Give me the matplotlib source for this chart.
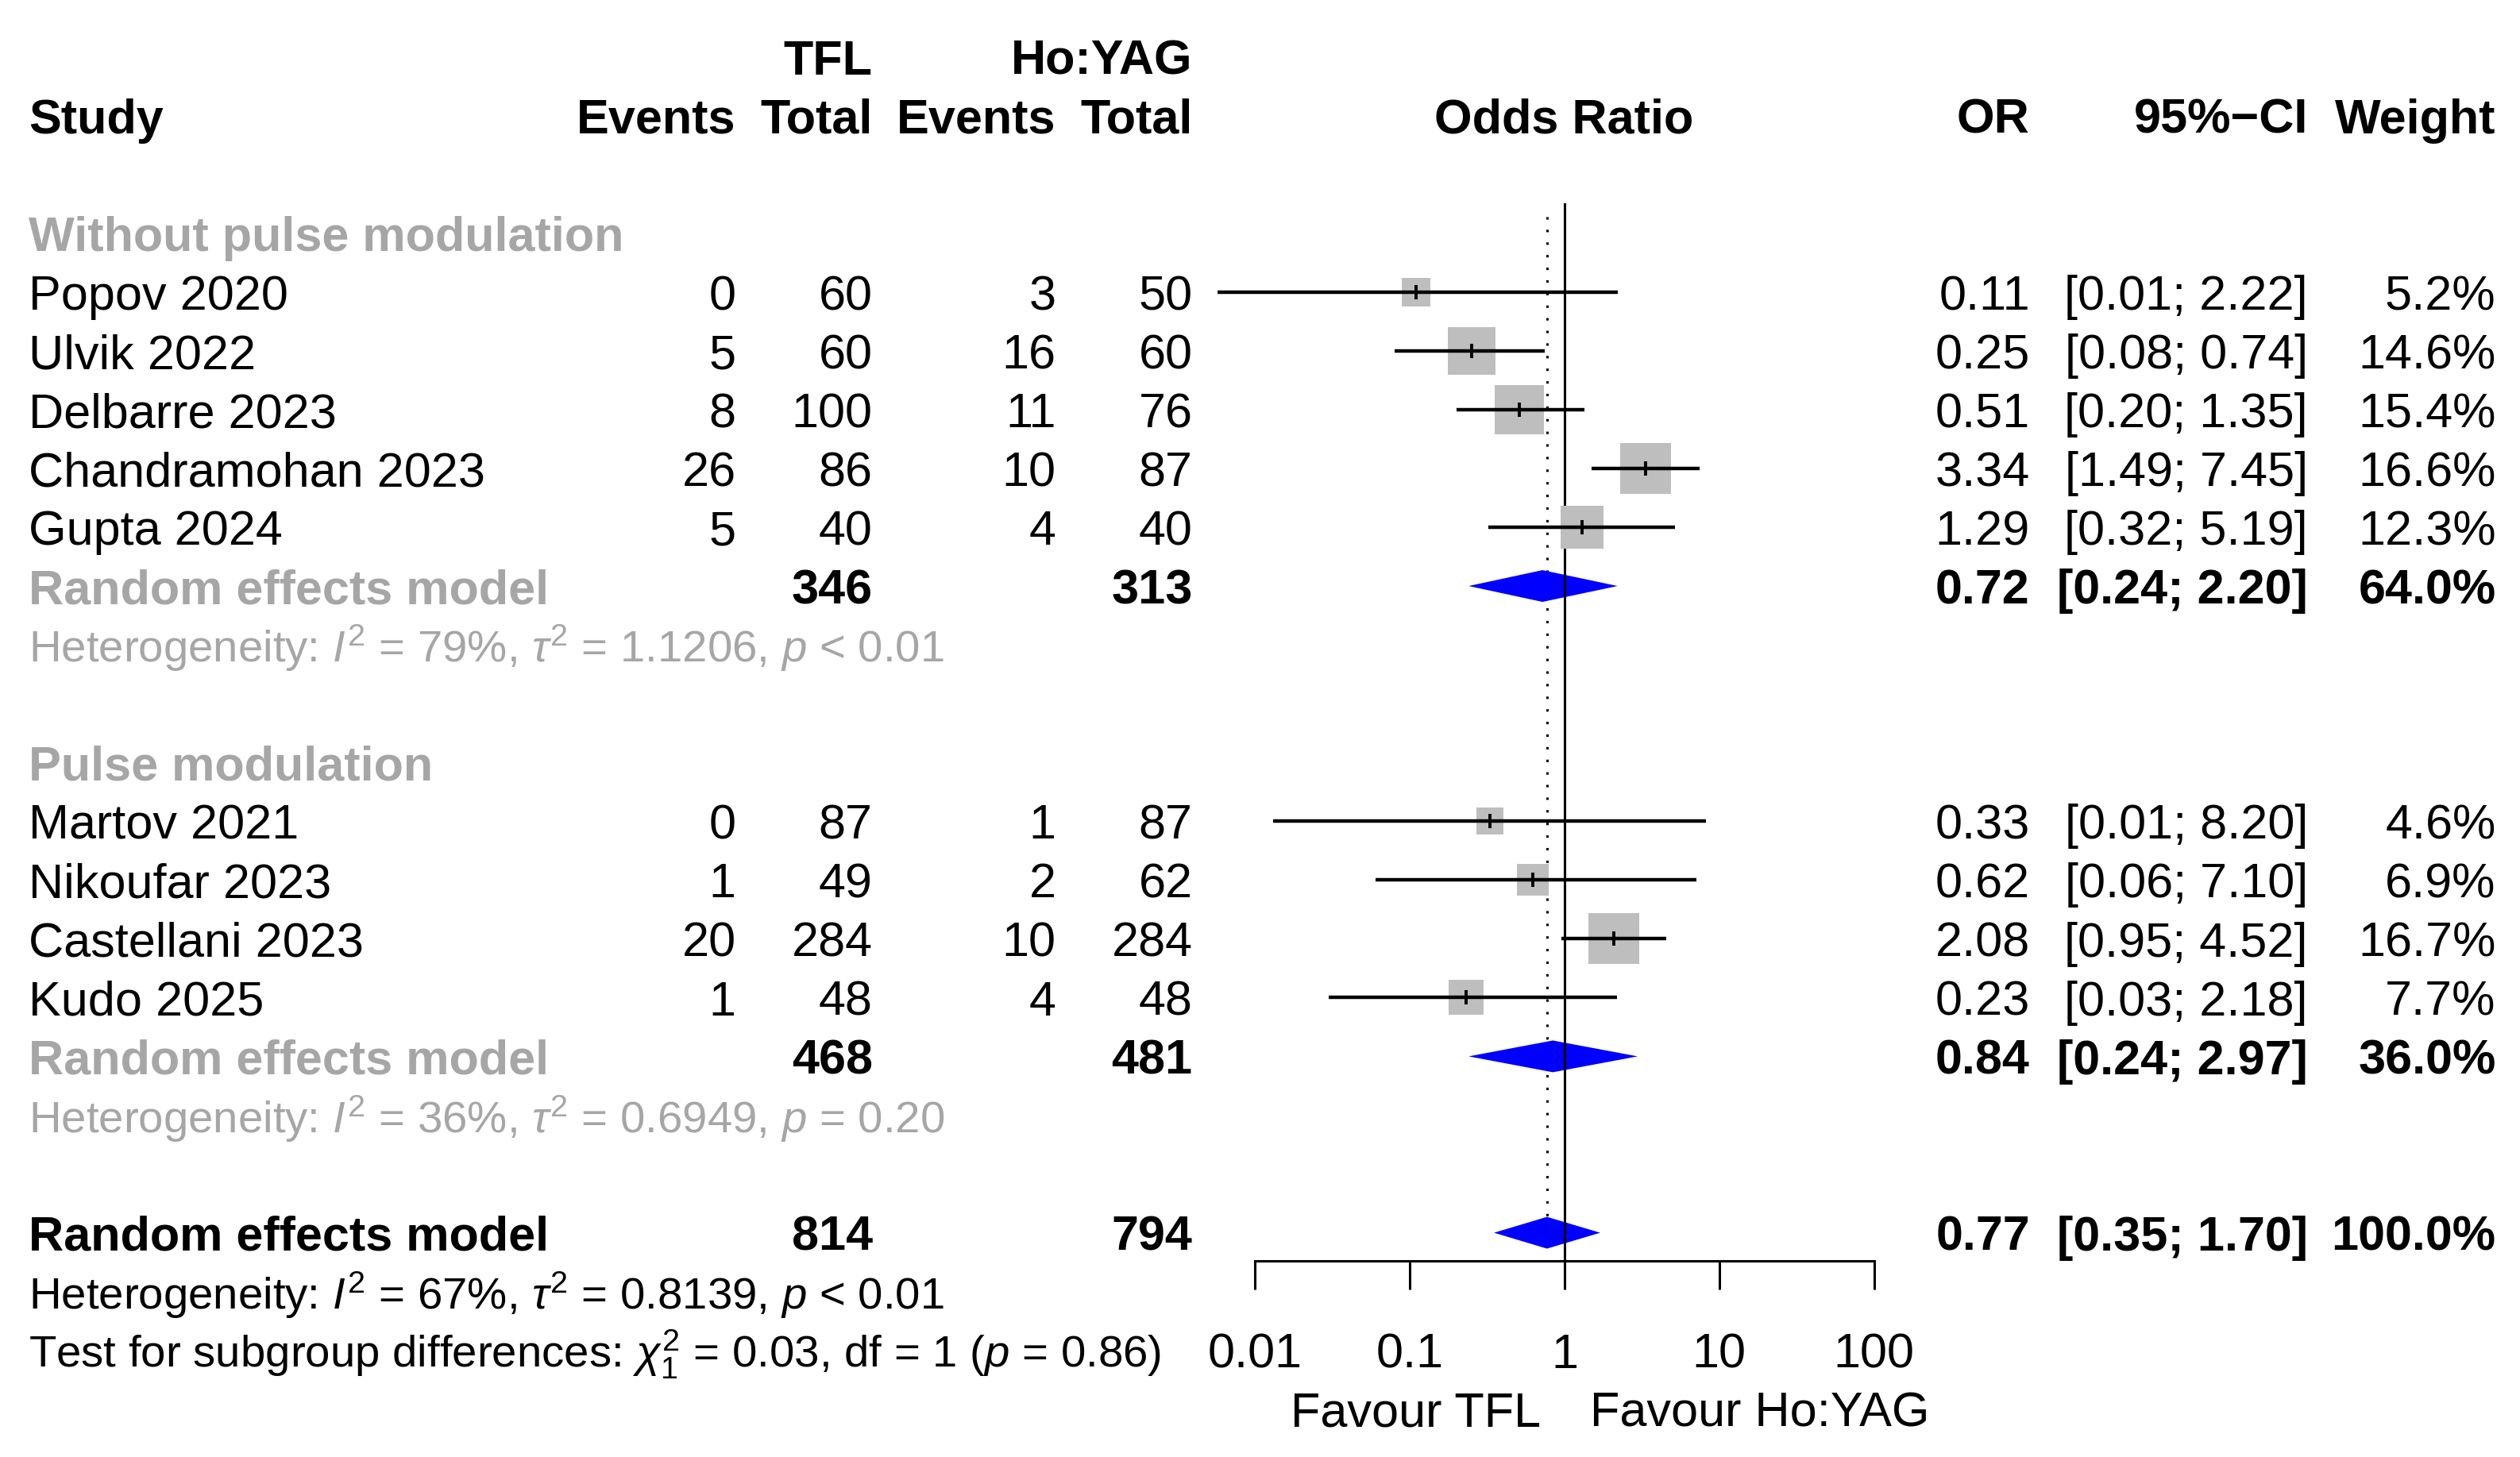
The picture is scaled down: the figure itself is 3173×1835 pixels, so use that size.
import matplotlib
matplotlib.use("Agg")
import matplotlib.pyplot as plt
import matplotlib.transforms as mtransforms
from matplotlib.ticker import NullLocator
import numpy as np

plt.rcParams['font.family'] = ['Liberation Sans', 'DejaVu Sans']
plt.rcParams['mathtext.fontset'] = 'custom'
plt.rcParams['mathtext.rm'] = 'Liberation Sans'
plt.rcParams['mathtext.it'] = 'Liberation Sans:italic'
plt.rcParams['mathtext.bf'] = 'Liberation Sans:bold'

# ---------------- data ----------------
group_names = ["Without pulse modulation", "Pulse modulation"]
studies = ["Popov 2020", "Ulvik 2022", "Delbarre 2023", "Chandramohan 2023", "Gupta 2024",
           "Martov 2021", "Nikoufar 2023", "Castellani 2023", "Kudo 2025"]
study_group = [0, 0, 0, 0, 0, 1, 1, 1, 1]
tfl_events = [0, 5, 8, 26, 5, 0, 1, 20, 1]
tfl_total = [60, 60, 100, 86, 40, 87, 49, 284, 48]
ho_events = [3, 16, 11, 10, 4, 1, 2, 10, 4]
ho_total = [50, 60, 76, 87, 40, 87, 62, 284, 48]
odds_ratio = [0.11, 0.25, 0.51, 3.34, 1.29, 0.33, 0.62, 2.08, 0.23]
ci_lower = [0.0057, 0.08, 0.20, 1.49, 0.32, 0.013, 0.06, 0.95, 0.03]
ci_upper = [2.22, 0.74, 1.35, 7.45, 5.19, 8.20, 7.10, 4.52, 2.18]
weights = [5.2, 14.6, 15.4, 16.6, 12.3, 4.6, 6.9, 16.7, 7.7]

sub_tfl_total = [346, 468]
sub_ho_total = [313, 481]
sub_or = [0.72, 0.84]
sub_lo = [0.24, 0.24]
sub_hi = [2.20, 2.97]
sub_weight = [64.0, 36.0]
sub_i2 = [79, 36]
sub_tau2 = ["1.1206", "0.6949"]
sub_p = ["< 0.01", "= 0.20"]

all_tfl_total = 814
all_ho_total = 794
all_or = 0.77
all_lo = 0.35
all_hi = 1.70
all_weight = 100.0
all_i2 = 67
all_tau2 = "0.8139"
all_p = "< 0.01"
test_chi2 = "0.03"
test_df = 1
test_p = "0.86"

axis_ticks = [0.01, 0.1, 1, 10, 100]
axis_tick_labels = ["0.01", "0.1", "1", "10", "100"]
label_left = "Favour TFL"
label_right = "Favour Ho:YAG"

# ---------------- layout ----------------
W, H = 1568.0, 907.0
ROW0, ROWH = 72.0, 36.6
ytop = (0 - ROW0) / ROWH
ybot = (H - ROW0) / ROWH
FS = 22
FS_HET = 20.3
GRAY = '#a6a6a6'
BASE = 0.30

X_STUDY = 18
X_TE, X_TT, X_HE, X_HT = 458, 543, 657, 742
X_OR, X_CI, X_W = 1263, 1436, 1553
X_AX_L, X_AX_R = 781, 1166
X_OR_HEAD = 973

fig = plt.figure(figsize=(3173 / 200, 1835 / 200), dpi=200)
ax0 = fig.add_axes([0, 0, 1, 1])
ax0.set_xlim(0, W)
ax0.set_ylim(ybot, ytop)
ax0.axis('off')

ax = fig.add_axes([X_AX_L / W, 0, (X_AX_R - X_AX_L) / W, 1])
ax.set_xscale('log')
ax.set_xlim(axis_ticks[0], axis_ticks[-1])
ax.set_ylim(ybot, ytop)
ax.patch.set_visible(False)


def txt(x, k, s, ha='left', bold=False, color='black', fs=FS):
    ax0.text(x, k + BASE, s, ha=ha, va='baseline', fontsize=fs,
             fontweight='bold' if bold else 'normal', color=color)


# headers
txt(X_TT, -1, "TFL", 'right', True)
txt(X_HT, -1, "Ho:YAG", 'right', True)
txt(X_STUDY, 0, "Study", 'left', True)
txt(X_TE, 0, "Events", 'right', True)
txt(X_TT, 0, "Total", 'right', True)
txt(X_HE, 0, "Events", 'right', True)
txt(X_HT, 0, "Total", 'right', True)
txt(X_OR_HEAD, 0, "Odds Ratio", 'center', True)
txt(X_OR, 0, "OR", 'right', True)
txt(X_CI, 0, "95%\u2212CI", 'right', True)
txt(X_W, 0, "Weight", 'right', True)

# rows
group_label_rows = [2, 11]
group_start_rows = [3, 12]
sub_rows = [8, 16]
overall_row = 19

dotted_top = 1.72
ax.plot([all_or, all_or], [dotted_top, overall_row], color='black', lw=1.1,
        ls=(0, (1, 4.2)), zorder=1, clip_on=False)
ax.plot([1, 1], [1.5, 19.48], color='black', lw=1.1, zorder=3, clip_on=False)

for g in range(2):
    txt(X_STUDY, group_label_rows[g], group_names[g], 'left', True, GRAY)
    idx = [i for i in range(len(studies)) if study_group[i] == g]
    for j, i in enumerate(idx):
        k = group_start_rows[g] + j
        txt(X_STUDY, k, studies[i])
        txt(X_TE, k, str(tfl_events[i]), 'right')
        txt(X_TT, k, str(tfl_total[i]), 'right')
        txt(X_HE, k, str(ho_events[i]), 'right')
        txt(X_HT, k, str(ho_total[i]), 'right')
        txt(X_OR, k, f"{odds_ratio[i]:.2f}", 'right')
        txt(X_CI, k, f"[{ci_lower[i]:.2f}; {ci_upper[i]:.2f}]", 'right')
        txt(X_W, k, f"{weights[i]:.1f}%", 'right')
        ax.plot([odds_ratio[i]], [k], marker='s', ms=5.6 * np.sqrt(weights[i]),
                color='#bebebe', mew=0, ls='none', zorder=4, clip_on=False)
        ax.plot([ci_lower[i], ci_upper[i]], [k, k], color='black', lw=1.6,
                zorder=5, clip_on=False, solid_capstyle='butt')
        ax.plot([odds_ratio[i]], [k], marker='|', ms=6.4, mew=1.4, color='black',
                ls='none', zorder=6, clip_on=False)
    k = sub_rows[g]
    txt(X_STUDY, k, "Random effects model", 'left', True, GRAY)
    txt(X_TT, k, str(sub_tfl_total[g]), 'right', True)
    txt(X_HT, k, str(sub_ho_total[g]), 'right', True)
    txt(X_OR, k, f"{sub_or[g]:.2f}", 'right', True)
    txt(X_CI, k, f"[{sub_lo[g]:.2f}; {sub_hi[g]:.2f}]", 'right', True)
    txt(X_W, k, f"{sub_weight[g]:.1f}%", 'right', True)
    ax.fill([sub_lo[g], sub_or[g], sub_hi[g], sub_or[g]],
            [k, k - 0.27, k, k + 0.27], color='#0000ff', lw=0, zorder=2, clip_on=False)
    txt(X_STUDY, k + 1,
        f"Heterogeneity: $I^2$ = {sub_i2[g]}%, $\\tau^2$ = {sub_tau2[g]}, $p$ {sub_p[g]}",
        'left', False, GRAY, FS_HET)

# overall
k = overall_row
txt(X_STUDY, k, "Random effects model", 'left', True)
txt(X_TT, k, str(all_tfl_total), 'right', True)
txt(X_HT, k, str(all_ho_total), 'right', True)
txt(X_OR, k, f"{all_or:.2f}", 'right', True)
txt(X_CI, k, f"[{all_lo:.2f}; {all_hi:.2f}]", 'right', True)
txt(X_W, k, f"{all_weight:.1f}%", 'right', True)
ax.fill([all_lo, all_or, all_hi, all_or], [k, k - 0.27, k, k + 0.27],
        color='#0000ff', lw=0, zorder=2, clip_on=False)
txt(X_STUDY, k + 1, f"Heterogeneity: $I^2$ = {all_i2}%, $\\tau^2$ = {all_tau2}, $p$ {all_p}",
    fs=FS_HET)
txt(X_STUDY, k + 2,
    f"Test for subgroup differences: $\\chi^2_{test_df}$ = {test_chi2}, df = {test_df} ($p$ = {test_p})",
    fs=FS_HET)

# axis
for s in ['top', 'left', 'right']:
    ax.spines[s].set_visible(False)
ax.spines['bottom'].set_position(('data', 19.48))
ax.spines['bottom'].set_linewidth(1.1)
ax.set_yticks([])
ax.set_xticks(axis_ticks)
ax.set_xticklabels([])
ax.xaxis.set_minor_locator(NullLocator())
ax.tick_params(axis='x', length=13, width=1.1, direction='out')
for v, lab in zip(axis_ticks, axis_tick_labels):
    ax.text(v, 21 + BASE, lab, ha='center', va='baseline', fontsize=FS)
off_l = mtransforms.offset_copy(ax.transData, fig=fig, x=-0.15, y=0, units='inches')
off_r = mtransforms.offset_copy(ax.transData, fig=fig, x=0.16, y=0, units='inches')
ax.text(1, 22 + BASE, label_left, ha='right', va='baseline', fontsize=FS, transform=off_l)
ax.text(1, 22 + BASE, label_right, ha='left', va='baseline', fontsize=FS, transform=off_r)

fig.savefig("out.png", dpi=200)
